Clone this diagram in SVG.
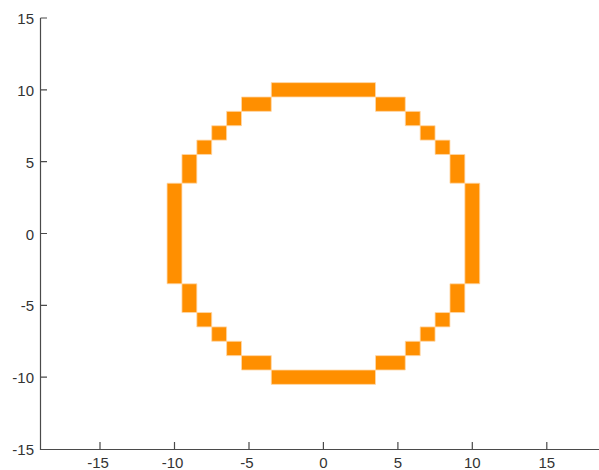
<svg xmlns="http://www.w3.org/2000/svg" width="599" height="470" viewBox="0 0 599 470">
<style>
.ax{stroke:#4a4a4a;stroke-width:1.2;fill:none}
.tl{font-family:"Liberation Sans",Arial,sans-serif;font-size:15px;fill:#333}
.cell{fill:#FF8F00;stroke:#FFD8A8;stroke-width:0.8;vector-effect:non-scaling-stroke}
</style>
<rect width="599" height="470" fill="#fff"/>
<g id="circle" transform="translate(323.4,233.5) scale(14.89,-14.37)">
<rect class="cell" x="-3.5" y="9.5" width="7" height="1"/>
<rect class="cell" x="-3.5" y="-10.5" width="7" height="1"/>
<rect class="cell" x="-5.5" y="8.5" width="2" height="1"/>
<rect class="cell" x="3.5" y="8.5" width="2" height="1"/>
<rect class="cell" x="-5.5" y="-9.5" width="2" height="1"/>
<rect class="cell" x="3.5" y="-9.5" width="2" height="1"/>
<rect class="cell" x="-6.5" y="7.5" width="1" height="1"/>
<rect class="cell" x="5.5" y="7.5" width="1" height="1"/>
<rect class="cell" x="-6.5" y="-8.5" width="1" height="1"/>
<rect class="cell" x="5.5" y="-8.5" width="1" height="1"/>
<rect class="cell" x="-7.5" y="6.5" width="1" height="1"/>
<rect class="cell" x="6.5" y="6.5" width="1" height="1"/>
<rect class="cell" x="-7.5" y="-7.5" width="1" height="1"/>
<rect class="cell" x="6.5" y="-7.5" width="1" height="1"/>
<rect class="cell" x="-8.5" y="5.5" width="1" height="1"/>
<rect class="cell" x="7.5" y="5.5" width="1" height="1"/>
<rect class="cell" x="-8.5" y="-6.5" width="1" height="1"/>
<rect class="cell" x="7.5" y="-6.5" width="1" height="1"/>
<rect class="cell" x="-9.5" y="3.5" width="1" height="2"/>
<rect class="cell" x="8.5" y="3.5" width="1" height="2"/>
<rect class="cell" x="-9.5" y="-5.5" width="1" height="2"/>
<rect class="cell" x="8.5" y="-5.5" width="1" height="2"/>
<rect class="cell" x="-10.5" y="-3.5" width="1" height="7"/>
<rect class="cell" x="9.5" y="-3.5" width="1" height="7"/>
</g>
<g id="axes">
<path class="ax" d="M40.5,18 V449.5 H599"/>
<path class="ax" d="M40.5,18 H47 M40.5,89.8 H47 M40.5,161.65 H47 M40.5,233.5 H47 M40.5,305.35 H47 M40.5,377.2 H47"/>
<path class="ax" d="M100,449.5 V442 M174.5,449.5 V442 M249,449.5 V442 M323.4,449.5 V442 M397.9,449.5 V442 M472.3,449.5 V442 M546.8,449.5 V442"/>
<g class="tl" text-anchor="end">
<text x="34" y="24">15</text>
<text x="34" y="96">10</text>
<text x="34" y="168">5</text>
<text x="34" y="239.5">0</text>
<text x="34" y="311">-5</text>
<text x="34" y="383">-10</text>
<text x="34" y="455">-15</text>
</g>
<g class="tl" text-anchor="middle">
<text x="98" y="468">-15</text>
<text x="172.5" y="468">-10</text>
<text x="247" y="468">-5</text>
<text x="323.4" y="468">0</text>
<text x="397.9" y="468">5</text>
<text x="472.3" y="468">10</text>
<text x="546.8" y="468">15</text>
</g>
</g>
</svg>
